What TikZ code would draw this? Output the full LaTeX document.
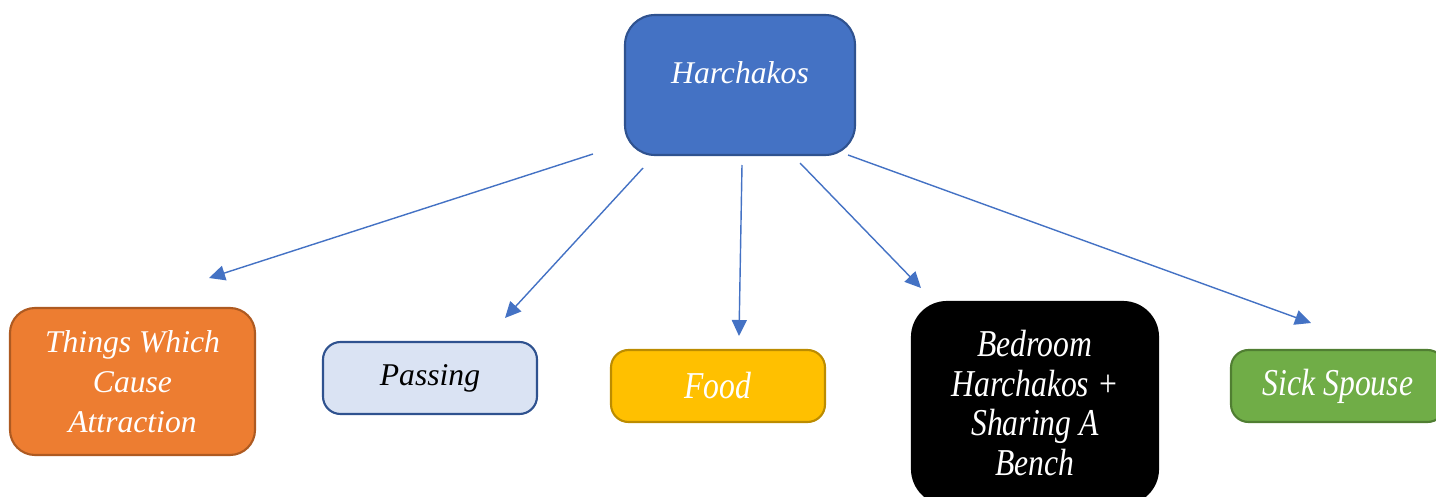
\documentclass[tikz,border=0pt]{standalone}
\usepackage{fontspec}
\setmainfont{Liberation Serif}
\usepackage{graphicx}
\usepackage{tikz}
\usetikzlibrary{arrows.meta}
\definecolor{hubblue}{HTML}{4472C4}
\definecolor{hubedge}{HTML}{2F528F}
\definecolor{orfill}{HTML}{ED7D31}
\definecolor{oredge}{HTML}{AE5A21}
\definecolor{paleblue}{HTML}{DAE3F3}
\definecolor{goldfill}{HTML}{FFC000}
\definecolor{goldedge}{HTML}{BC8C00}
\definecolor{grfill}{HTML}{70AD47}
\definecolor{gredge}{HTML}{507E32}
\newcommand{\tall}[1]{\scalebox{1}[1.2]{#1}}

\begin{document}
\begin{tikzpicture}[
  box/.style={rectangle, rounded corners=0.35cm, line width=1.2pt, align=center,
    font=\fontsize{18}{22.7}\selectfont\itshape, inner sep=0pt},
  link/.style={hubblue, line width=0.8pt, -{Triangle[length=0.32cm, width=0.3cm]}}]
        \useasboundingbox (0,0) rectangle (28.72,9.92);
        \node[box, fill=hubblue, draw=hubedge, rounded corners=0.6cm, minimum width=4.6cm, minimum height=2.8cm,
          label={[font=\fontsize{18}{22.7}\selectfont\itshape, text=white, yshift=0.24cm]center:Harchakos}] (hub) at (14.8,8.22) {};
        \node[box, fill=orfill, draw=oredge, rounded corners=0.5cm, text=white, minimum width=4.9cm, minimum height=2.94cm] (things) at (2.65,2.29) {Things Which\\Cause\\Attraction};
        \node[box, fill=paleblue, draw=hubedge, minimum width=4.28cm, minimum height=1.44cm] (passing) at (8.6,2.36) {Passing};
        \node[box, fill=goldfill, draw=goldedge, text=white, minimum width=4.28cm, minimum height=1.44cm] (food) at (14.36,2.2) {\tall{Food}};
        \node[box, fill=black, draw=black, rounded corners=0.7cm, text=white, minimum width=4.92cm, minimum height=4.04cm] (bedroom) at (20.7,1.86) {\tall{Bedroom}\\\tall{Harchakos +}\\\tall{Sharing A}\\\tall{Bench}};
        \node[box, fill=grfill, draw=gredge, text=white, minimum width=4.28cm, minimum height=1.44cm] (sick) at (26.76,2.2) {\tall{Sick Spouse}};
        \coordinate (s1) at (11.86,6.84); \coordinate (e1) at (4.18,4.36);
        \coordinate (s2) at (12.86,6.56); \coordinate (e2) at (10.10,3.56);
        \coordinate (s3) at (14.84,6.62); \coordinate (e3) at (14.78,3.20);
        \coordinate (s4) at (16.00,6.66); \coordinate (e4) at (18.42,4.16);
        \coordinate (s5) at (16.96,6.82); \coordinate (e5) at (26.22,3.46);
        \foreach \i in {1,...,5}
        { \draw[link] (s\i) -- (e\i);
        }
\end{tikzpicture}
\end{document}
